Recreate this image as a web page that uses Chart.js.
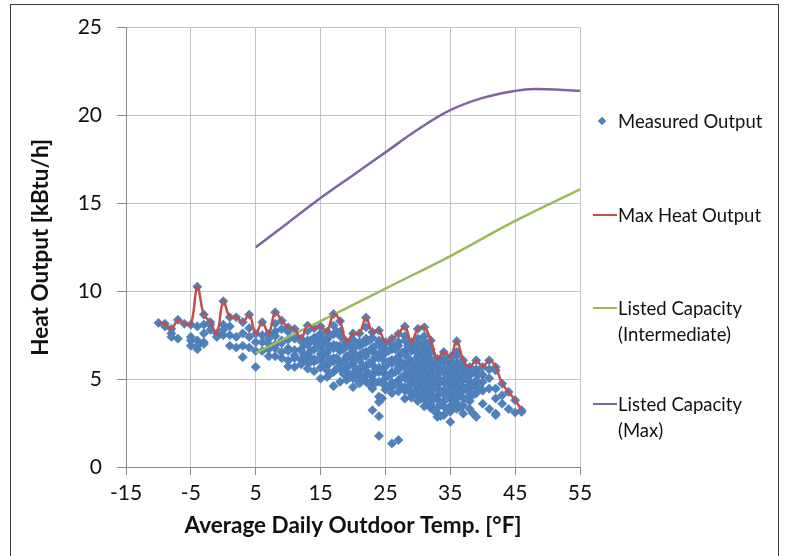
<!DOCTYPE html>
<html><head><meta charset="utf-8">
<script src="https://cdn.jsdelivr.net/npm/chart.js@4/dist/chart.umd.min.js"></script>
<style>
html,body{margin:0;padding:0;background:#fff;width:786px;height:556px;overflow:hidden;}
#frame{position:absolute;left:10px;top:4px;width:767px;height:600px;border:1px solid #3a3a3a;}
#wrap{position:absolute;left:0;top:0;width:786px;height:556px;}
.lg{position:absolute;left:618px;font-family:Lato,sans-serif;font-size:18.5px;color:#111;line-height:26px;white-space:nowrap;}
.sw{position:absolute;left:593px;width:24px;height:2px;}
.dm{position:absolute;left:599px;width:6px;height:6px;background:#4F81BD;transform:rotate(45deg);}
</style></head>
<body>
<div id="frame"></div>
<div id="wrap"><canvas id="c" width="786" height="556"></canvas></div>
<div id="legend"></div>
<script>
// ---- data ----
const measuredTemps = [-10,-9,-8,-7,-6,-5,-4,-3,-2,-1,0,1,2,3,4,5,6,7,8,9,10,11,12,13,14,15,16,17,18,19,20,21,22,23,24,25,26,27,28,29,30,31,32,33,34,35,36,37,38,39,40,41,42,43,44,45,46];
const measuredOutput = [
 [8.2],
 [8.15,8.0],
 [7.86,7.6,7.4],
 [8.37,7.3],
 [8.15],
 [8.1,7.4,6.9,7.2],
 [10.26,7.2,6.7,6.9,8.0],
 [8.67,7.1,7.0,8.1,7.6],
 [8.24,8.1,7.8],
 [7.6,7.4],
 [9.43,8.1,7.5,7.8],
 [8.52,8.0,7.5,6.9],
 [8.52,7.4,6.8],
 [8.24,7.6,6.9,6.25],
 [8.67,7.9,7.4,6.8],
 [7.58,7.1,6.6,5.69],
 [8.24,7.5,7.1,6.6],
 [7.58,7.3,7.0,6.7,6.3],
 [8.8,8.15,7.7,7.45,6.95,6.75,6.3],
 [8.33,7.85,7.2,7.05,6.55,6.2],
 [7.95,7.7,7.25,6.75,6.6,6.05,5.72],
 [7.86,7.4,7.3,6.65,6.35,6.2,5.69],
 [7.3,7.15,6.7,6.6,6.1,5.85],
 [8.05,7.75,7.2,6.95,6.4,6.35,5.95,5.6],
 [7.9,7.35,7.15,6.7,6.15,6.0,5.45],
 [8.0,7.6,7.1,6.9,6.45,6.2,5.65,5.03],
 [7.7,7.25,7.0,6.5,6.3,5.75,5.5,5.12],
 [8.7,8.05,7.55,6.95,6.75,6.2,6.0,5.4,4.6],
 [8.3,7.7,7.45,6.9,6.6,5.95,5.6,4.84],
 [7.1,6.85,6.3,6.2,5.65,5.4,4.95],
 [7.6,7.25,6.8,6.6,6.15,5.9,5.35,5.05,4.55],
 [7.6,7.1,6.9,6.35,6.1,5.5,5.25,4.75],
 [8.5,7.95,7.3,7.1,6.55,6.3,5.75,5.5,5.2,4.85],
 [7.67,7.35,6.8,6.6,6.05,5.8,5.2,4.95,4.46,3.23],
 [7.77,7.2,7.0,6.45,6.2,5.65,5.4,4.85,4.0,3.7,2.89,1.77],
 [7.1,6.7,6.5,5.9,5.7,5.25,5.05,4.6,4.4],
 [7.3,6.95,6.7,6.1,5.9,5.4,5.3,4.8,4.55,4.2,1.34],
 [7.58,7.1,6.9,6.3,6.1,5.65,5.5,4.95,4.75,4.3,1.53],
 [8.0,7.45,7.2,6.6,6.4,5.85,5.7,5.25,5.05,4.55,4.35,3.89],
 [7.1,6.75,6.6,6.0,5.9,5.45,5.3,4.85,4.7,4.15,3.95],
 [7.86,7.3,7.0,6.45,6.3,5.8,5.65,5.25,5.1,4.65,4.5,4.05,3.75],
 [7.95,7.45,7.1,6.55,6.4,5.95,5.75,5.35,5.2,4.75,4.55,4.15,3.85,3.45],
 [7.2,6.7,6.5,6.0,5.9,5.45,5.3,4.85,4.7,4.25,4.05,3.55,3.35],
 [6.16,5.85,5.7,5.25,5.1,4.65,4.5,4.05,3.85,3.35,3.05,2.85],
 [6.54,6.15,6.0,5.55,5.4,4.95,4.8,4.35,4.15,3.75,3.45,2.95],
 [6.25,5.95,5.8,5.35,5.2,4.75,4.6,4.15,3.95,3.45,3.15,2.57],
 [7.16,6.55,6.3,5.85,5.7,5.25,5.1,4.65,4.45,3.95,3.65,3.3],
 [6.07,5.75,5.6,5.15,5.0,4.55,4.35,3.9,3.5,3.04],
 [5.69,5.35,5.2,4.84,4.45,4.25,3.75,3.3],
 [6.07,5.55,5.3,4.93,4.55,4.2,2.85],
 [5.69,5.25,4.84,4.35,3.6],
 [6.07,5.55,5.05,4.46,3.3],
 [5.69,5.5,4.46,3.9,3.04,2.95],
 [4.74,4.08,3.6],
 [4.27,3.3],
 [3.8,3.1],
 [3.23,3.13]
];
const halfTemps = [12.5,13.5,14.5,15.5,16.5,17.5,18.5,19.5,20.5,21.5,22.5,23.5,24.5,25.5,26.5,27.5,28.5,29.5,30.5,31.5,32.5,33.5,34.5,35.5,36.5,37.5,38.5,39.5];
const halfOutput = [
 [7.0,6.3],
 [7.2,6.6,6.0],
 [7.4,6.8,6.1],
 [7.3,6.6,5.9],
 [7.5,6.8,6.0,5.3],
 [7.7,6.9,6.2,5.6],
 [7.3,6.7,6.0,5.3],
 [6.9,6.4,5.8,5.1],
 [6.9,6.3,5.6,5.0],
 [7.0,6.5,5.8,5.1],
 [7.2,6.6,5.9,5.3,4.7],
 [6.9,6.3,5.5,4.8],
 [6.8,6.2,5.5,4.8,3.9],
 [6.6,6.0,5.2,4.6],
 [6.7,6.0,5.4,4.7],
 [6.5,5.95,5.1,4.5],
 [6.9,6.2,5.5,4.95,4.4],
 [6.7,6.05,5.6,5.0,4.3],
 [6.8,6.1,5.45,4.9,4.3,3.9],
 [6.9,6.2,5.55,5.0,4.4,3.7],
 [6.1,5.65,5.0,4.5,3.9,3.2],
 [5.95,5.45,4.9,4.3,3.6,2.9],
 [6.1,5.6,5.05,4.5,3.9,3.3],
 [6.4,5.9,5.45,4.85,4.3,3.7],
 [5.9,5.4,4.8,4.2,3.4],
 [5.5,5.0,4.5,3.9],
 [5.5,4.7,4.1,3.05],
 [5.3,4.6]
];
const maxTemps = measuredTemps;
const maxOutput = [8.2,8.15,7.86,8.37,8.15,8.1,10.26,8.67,8.24,7.6,9.43,8.52,8.52,8.24,8.67,7.58,8.24,7.58,8.8,8.33,7.95,7.86,7.3,8.05,7.9,8.0,7.7,8.7,8.3,7.1,7.6,7.6,8.5,7.67,7.77,7.1,7.3,7.58,8.0,7.1,7.86,7.95,7.2,6.16,6.54,6.25,7.16,6.07,5.69,6.07,5.69,6.07,5.69,4.74,4.27,3.8,3.23];
const intermTemps = [5,15,25,35,45,55];
const intermCapacity = [6.5,8.3,10.15,12.0,14.0,15.8];
const maxCapTemps = [5,10,15,20,25,30,35,40,45,48,55];
const maxCapacity = [12.5,13.9,15.3,16.6,17.9,19.2,20.3,21.0,21.4,21.5,21.4];
const xTicks = [-15,-5,5,15,25,35,45,55];
const yTicks = [0,5,10,15,20,25];
const seriesNames = ['Measured Output','Max Heat Output','Listed Capacity (Intermediate)','Listed Capacity (Max)'];
const seriesColors = ['#4F81BD','#C0504D','#9BBB59','#8064A2'];

// ---- build ----
const scatterPts = [];
measuredTemps.forEach((t,i)=>measuredOutput[i].forEach(v=>scatterPts.push({x:t,y:v})));
halfTemps.forEach((t,i)=>halfOutput[i].forEach(v=>scatterPts.push({x:t,y:v})));
const maxPts = maxTemps.map((t,i)=>({x:t,y:maxOutput[i]}));
const intermPts = intermTemps.map((t,i)=>({x:t,y:intermCapacity[i]}));
const maxCapPts = maxCapTemps.map((t,i)=>({x:t,y:maxCapacity[i]}));

const FONT = 'Lato, sans-serif';
new Chart(document.getElementById('c'), {
  type:'scatter',
  data:{datasets:[
    {label:seriesNames[1],data:maxPts,showLine:true,borderColor:seriesColors[1],borderWidth:2.5,pointRadius:0,tension:0.4,order:1},
    {label:seriesNames[2],data:intermPts,showLine:true,borderColor:seriesColors[2],borderWidth:2.5,pointRadius:0,tension:0.4,order:2},
    {label:seriesNames[3],data:maxCapPts,showLine:true,borderColor:seriesColors[3],borderWidth:2.5,pointRadius:0,tension:0.4,order:3},
    {label:seriesNames[0],data:scatterPts,showLine:false,pointStyle:'rectRot',pointRadius:4.6,backgroundColor:seriesColors[0],borderColor:'#4677B0',borderWidth:0.6,order:4}
  ]},
  options:{
    responsive:false,animation:false,
    layout:{padding:{left:25,top:25,right:206,bottom:14}},
    plugins:{legend:{display:false},tooltip:{enabled:false}},
    scales:{
      x:{type:'linear',min:-15,max:55,
        afterBuildTicks:s=>{s.ticks=xTicks.map(v=>({value:v}));},
        afterFit:s=>{s.height=75;},
        ticks:{font:{family:FONT,size:21},color:'#111',padding:6,maxRotation:0},
        grid:{color:'#c4c4c4',tickColor:'#8a8a8a',tickLength:8,lineWidth:1},
        border:{color:'#8a8a8a',width:1},
        title:{display:true,text:'Average Daily Outdoor Temp. [°F]',font:{family:FONT,size:22.5,weight:'bold'},color:'#111',padding:{top:0,bottom:3}}
      },
      y:{type:'linear',min:0,max:25,
        afterBuildTicks:s=>{s.ticks=yTicks.map(v=>({value:v}));},
        afterFit:s=>{s.width=101;},
        ticks:{font:{family:FONT,size:21},color:'#111',padding:15},
        grid:{color:'#c4c4c4',tickColor:'#8a8a8a',tickLength:9,lineWidth:1},
        border:{color:'#8a8a8a',width:1},
        title:{display:true,text:'Heat Output [kBtu/h]',font:{family:FONT,size:22.5,weight:'bold'},color:'#111',padding:{top:2,bottom:0}}
      }
    }
  }
});

// ---- legend ----
const lg = document.getElementById('legend');
const legendRows = [[121],[215],[308,334],[404,430]];
const legendLines = [['Measured Output'],['Max Heat Output'],['Listed Capacity','(Intermediate)'],['Listed Capacity','(Max)']];
legendRows.forEach((rows,i)=>{
  if(i===0){const d=document.createElement('div');d.className='dm';d.style.top=(rows[0]-3)+'px';lg.appendChild(d);}
  else{const s=document.createElement('div');s.className='sw';s.style.top=(rows[0]-1)+'px';s.style.background=seriesColors[i];lg.appendChild(s);}
  rows.forEach((y,j)=>{const t=document.createElement('div');t.className='lg';t.style.top=(y-13)+'px';t.textContent=legendLines[i][j];lg.appendChild(t);});
});
</script>
</body></html>
